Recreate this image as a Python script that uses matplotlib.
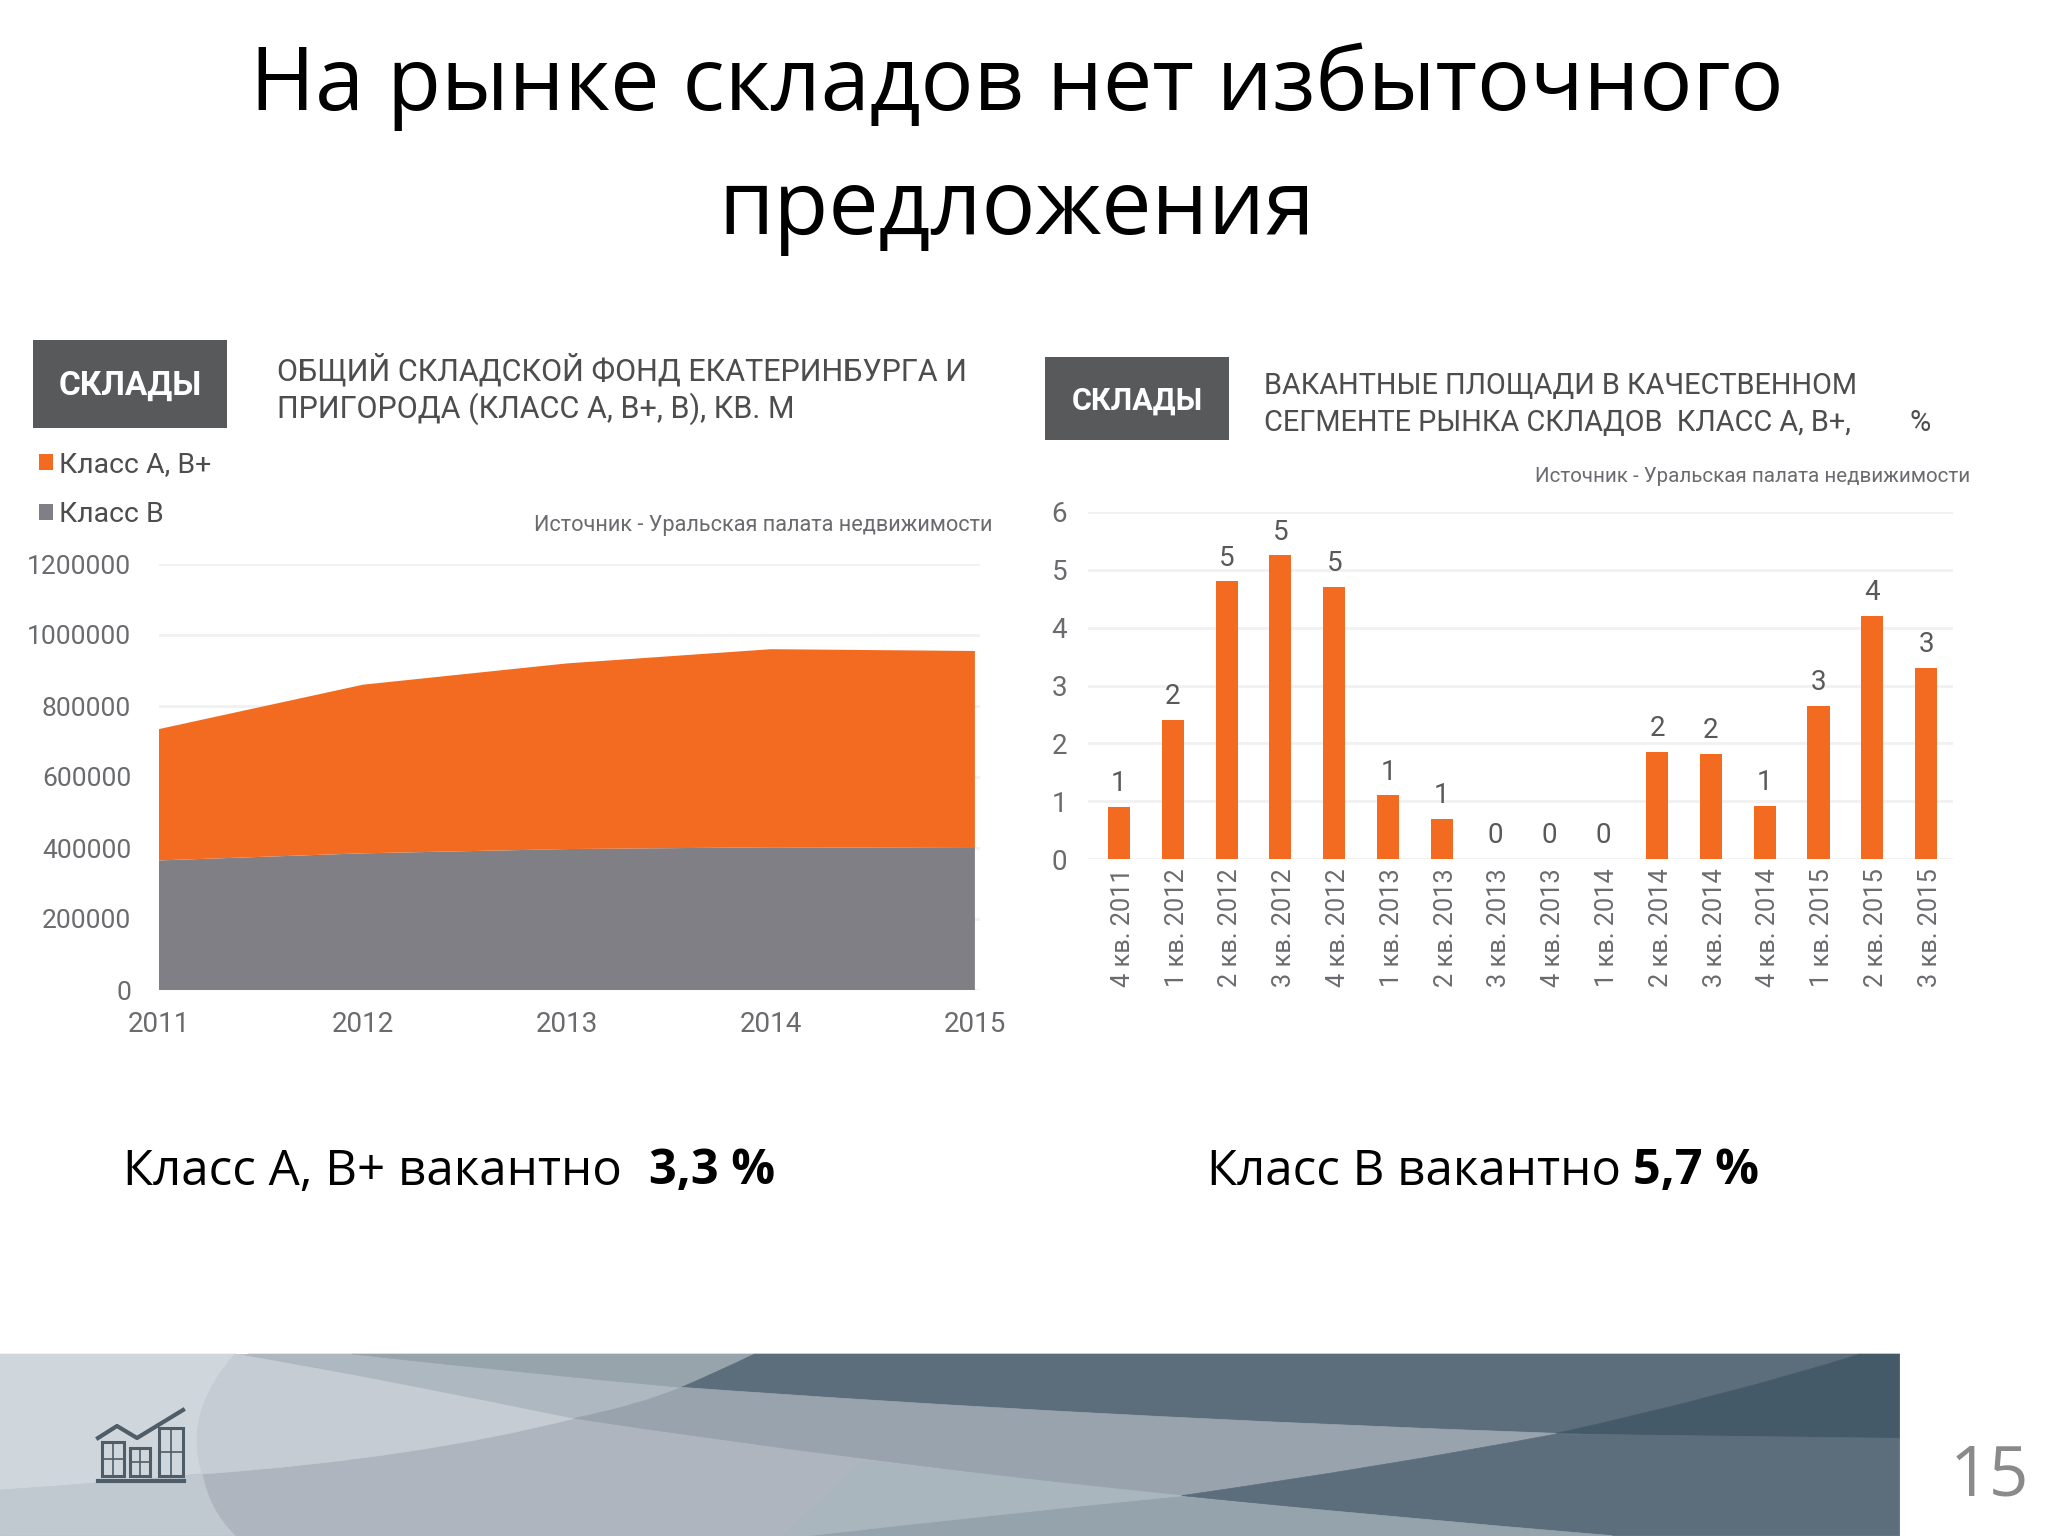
import numpy as np
import matplotlib
matplotlib.use("Agg")
import matplotlib.pyplot as plt
from matplotlib.path import Path
from matplotlib.patches import PathPatch, Rectangle

W, H = 2048, 1536

# left chart
years = [2011, 2012, 2013, 2014, 2015]
class_b = [365000, 385000, 397000, 402000, 400000]
class_a = [370000, 475000, 523000, 558000, 555000]
area_ticks = [0, 200000, 400000, 600000, 800000, 1000000, 1200000]

# right chart
quarters = ["4 кв. 2011", "1 кв. 2012", "2 кв. 2012", "3 кв. 2012", "4 кв. 2012",
            "1 кв. 2013", "2 кв. 2013", "3 кв. 2013", "4 кв. 2013", "1 кв. 2014",
            "2 кв. 2014", "3 кв. 2014", "4 кв. 2014", "1 кв. 2015", "2 кв. 2015",
            "3 кв. 2015"]
vacant = [0.9, 2.4, 4.8, 5.25, 4.7, 1.1, 0.7, 0, 0, 0, 1.85, 1.82, 0.92, 2.65, 4.2, 3.3]
vacant_labels = ["1", "2", "5", "5", "5", "1", "1", "0", "0", "0", "2", "2", "1", "3", "4", "3"]

ORANGE = "#f26b21"
GREY = "#7f7f85"
BOX = "#58595b"
TEXT = "#6a6b6e"
GRID = "#f1f1f1"
HEAD = "#4d4d4f"
NARROW = ["Roboto", "DejaVu Sans"]
MAIN = ["Open Sans", "DejaVu Sans"]


def make_axes(fig, left, right, top, bottom, **kw):
    # pixel box -> figure fractions
    return fig.add_axes([left / W, 1 - bottom / H, (right - left) / W, (bottom - top) / H], **kw)


def shape(ax, pts, color):
    # pts: (x, y) are line ends, (x, y, cx, cy) are curves with control point
    verts = [pts[0][:2]]
    codes = [Path.MOVETO]
    for p in pts[1:]:
        if len(p) == 4:
            verts += [(p[2], p[3]), (p[0], p[1])]
            codes += [Path.CURVE3, Path.CURVE3]
        else:
            verts.append(p)
            codes.append(Path.LINETO)
    verts.append(pts[0][:2])
    codes.append(Path.CLOSEPOLY)
    # banner was measured in a stretched crop, bring it back to pixels
    verts = [(x / 0.766, 1330 + y / 3) for x, y in verts]
    ax.add_patch(PathPatch(Path(verts, codes), fc=color, ec=color, lw=0.5))


def draw_banner(ax):
    shape(ax, [(0, 72), (1455, 72), (1455, 617), (0, 617)], "#aeb5bf")
    shape(ax, [(0, 72), (180, 72), (155, 430, 140, 250), (0, 480, 80, 460)], "#d0d7dc")
    shape(ax, [(0, 480), (155, 432, 80, 460), (180, 617, 160, 540), (0, 617)], "#bfc9cf")
    shape(ax, [(180, 72), (440, 265, 310, 160), (155, 432, 320, 385), (180, 72, 140, 250)], "#c5ccd3")
    shape(ax, [(190, 72), (270, 72), (522, 172, 390, 125), (440, 265, 490, 225), (190, 72, 310, 160)], "#adb8c0")
    shape(ax, [(270, 72), (578, 72), (522, 172, 550, 125), (270, 72, 390, 125)], "#98a4ab")
    shape(ax, [(578, 72), (1425, 72), (1192, 310, 1320, 200), (522, 172, 840, 262), (578, 72, 550, 125)], "#5c6d7b")
    shape(ax, [(1425, 72), (1455, 72), (1455, 325), (1192, 310, 1320, 322), (1425, 72, 1320, 200)], "#455a68")
    shape(ax, [(522, 172), (1192, 310, 840, 262), (905, 497, 1060, 410), (440, 265, 660, 395), (522, 172, 490, 225)], "#98a3ae")
    shape(ax, [(1192, 312), (1455, 325), (1455, 617), (1235, 617), (905, 497, 1060, 560), (1192, 312, 1060, 410)], "#5c6d7b")
    shape(ax, [(905, 500), (1235, 617, 1060, 560), (620, 617), (905, 500, 770, 550)], "#95a3ad")
    shape(ax, [(660, 395), (905, 497, 790, 450), (620, 617, 770, 550), (600, 617)], "#a9b6be")


def draw_icon(ax):
    c = "#4f5d68"
    for x0, x1, y0 in [(102, 124, 1442), (130, 150, 1448), (159, 183, 1428)]:
        ax.add_patch(Rectangle((x0, y0), x1 - x0, 1476 - y0, fc="none", ec=c, lw=2.2))
        ax.plot([(x0 + x1) / 2] * 2, [y0, 1476], color=c, lw=1.2)
        ax.plot([x0, x1], [(y0 + 1476) / 2] * 2, color=c, lw=1.2)
    ax.plot([98, 184], [1481, 1481], color=c, lw=3)
    ax.plot([98, 117, 137, 183], [1438, 1426, 1438, 1410], color=c, lw=3)


fig = plt.figure(figsize=(W / 100, H / 100), dpi=100, facecolor="white")

# whole figure in pixels for everything around the charts
bg = fig.add_axes([0, 0, 1, 1])
bg.set_xlim(0, W)
bg.set_ylim(H, 0)
bg.axis("off")

bg.text(1017, 87, "На рынке складов нет избыточного", family=MAIN, fontsize=63.5,
        color="black", ha="center", va="center")
bg.text(1017, 211, "предложения", family=MAIN, fontsize=64.5,
        color="black", ha="center", va="center")

box_sizes = [24, 22]
for (x0, x1, y0, y1), size in zip([(33, 227, 340, 428), (1045, 1229, 357, 440)], box_sizes):
    bg.add_patch(Rectangle((x0, y0), x1 - x0, y1 - y0, fc=BOX, ec="none"))
    bg.text((x0 + x1) / 2, (y0 + y1) / 2 + 2, "СКЛАДЫ", family=NARROW, fontsize=size,
            fontweight="bold", color="white", ha="center", va="center")

bg.text(277, 370, "ОБЩИЙ СКЛАДСКОЙ ФОНД ЕКАТЕРИНБУРГА И", family=NARROW, fontsize=22,
        color=HEAD, va="center")
bg.text(277, 409, "ПРИГОРОДА (КЛАСС А, В+, В), КВ. М", family=NARROW, fontsize=22,
        color=HEAD, va="center")
bg.text(1264, 386, "ВАКАНТНЫЕ ПЛОЩАДИ В КАЧЕСТВЕННОМ", family=NARROW, fontsize=20.8,
        color=HEAD, va="center")
bg.text(1264, 423, "СЕГМЕНТЕ РЫНКА СКЛАДОВ  КЛАСС А, В+,", family=NARROW, fontsize=20.8,
        color=HEAD, va="center")
bg.text(1920, 423, "%", family=NARROW, fontsize=20.8, color=HEAD, ha="center", va="center")

bg.text(993, 525, "Источник - Уральская палата недвижимости", family=NARROW, fontsize=15.7,
        color=TEXT, ha="right", va="center")
bg.text(1970, 477, "Источник - Уральская палата недвижимости", family=NARROW, fontsize=14.8,
        color=TEXT, ha="right", va="center")

bg.text(123, 1172, "Класс А, В+ вакантно", family=MAIN, fontsize=35.5, color="black", va="center")
bg.text(649, 1172, "3,3 %", family=MAIN, fontsize=35, fontweight="bold", color="black", va="center")
bg.text(1207, 1172, "Класс В вакантно", family=MAIN, fontsize=35.5, color="black", va="center")
bg.text(1633, 1172, "5,7 %", family=MAIN, fontsize=35, fontweight="bold", color="black", va="center")

draw_banner(bg)
draw_icon(bg)
bg.text(1989, 1478, "15", family=MAIN, fontsize=50, color="#8a8a8a", ha="center", va="center")

# stacked area
ax1 = make_axes(fig, 159, 980, 564, 990, facecolor="none")
ax1.stackplot(years, class_b, class_a, colors=[GREY, ORANGE], linewidth=0,
              labels=["Класс В", "Класс А, В+"])
ax1.set_xlim(2011, 2015.025)
ax1.set_ylim(0, 1200000)
ax1.set_yticks(area_ticks)
ax1.set_yticklabels(area_ticks)
ax1.set_xticks(years)
ax1.set_xticklabels(years)
ax1.grid(axis="y", color=GRID, lw=2)
ax1.set_axisbelow(True)
ax1.tick_params(length=0, labelcolor=TEXT)
ax1.tick_params(axis="x", pad=15, labelsize=20)
ax1.tick_params(axis="y", pad=20, labelsize=19)
for lab in ax1.get_xticklabels() + ax1.get_yticklabels():
    lab.set_family(NARROW)
for side in ax1.spines.values():
    side.set_visible(False)
handles, labels = ax1.get_legend_handles_labels()
ax1.legend(handles[::-1], labels[::-1], loc="upper left", bbox_to_anchor=(39 / W, 1 - 451 / H),
           bbox_transform=fig.transFigure, frameon=False, handlelength=0.5, handleheight=0.5,
           handletextpad=0.2, labelspacing=0.8, borderpad=0, borderaxespad=0,
           prop={"family": NARROW, "size": 20.5}, labelcolor=HEAD)

# vacancy bars
ax2 = make_axes(fig, 1088, 1953, 512, 859, facecolor="none")
x = np.arange(len(quarters))
bars = ax2.bar(x, vacant, width=0.41, color=ORANGE)
ax2.bar_label(bars, labels=vacant_labels, padding=7, fontsize=20, color=BOX, family=NARROW)
ax2.set_xlim(-0.576, 15.5)
ax2.set_ylim(0, 6)
ax2.set_yticks(range(7))
ax2.set_xticks(x + 0.07)
ax2.set_xticklabels(quarters, rotation=90)
ax2.grid(axis="y", color=GRID, lw=2)
ax2.set_axisbelow(True)
ax2.tick_params(length=0, labelcolor=TEXT)
ax2.tick_params(axis="x", pad=7, labelsize=18.3)
ax2.tick_params(axis="y", pad=15, labelsize=20)
for lab in ax2.get_xticklabels() + ax2.get_yticklabels():
    lab.set_family(NARROW)
for side in ax2.spines.values():
    side.set_visible(False)

fig.savefig("out.png", dpi=100)
